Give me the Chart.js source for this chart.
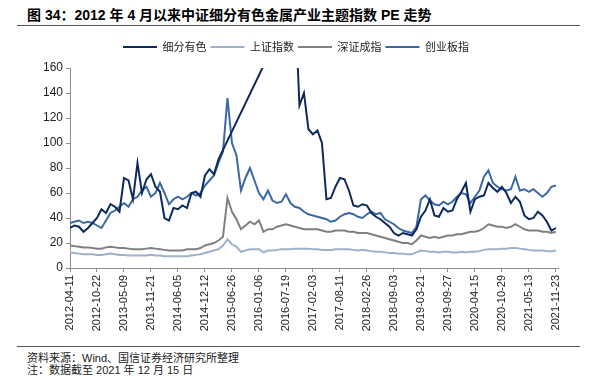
<!DOCTYPE html>
<html>
<head>
<meta charset="utf-8">
<script src="https://cdn.jsdelivr.net/npm/chart.js@4.4.1/dist/chart.umd.min.js"></script>
<style>
  body { margin: 0; background: #fff; width: 592px; height: 385px; overflow: hidden; position: relative; font-family: "Liberation Sans", "Noto Sans CJK SC", sans-serif; }
  #title { position: absolute; left: 27px; top: 4px; font-size: 14px; font-weight: bold; color: #000; white-space: nowrap; }
  .rule { position: absolute; left: 17px; width: 563px; height: 1px; background: #555; }
  #wrap { position: absolute; left: 0; top: 34px; width: 592px; height: 311px; }
  .foot { position: absolute; left: 27px; font-size: 11px; color: #222; white-space: nowrap; }
</style>
</head>
<body>
<div id="title">图 34：2012 年 4 月以来中证细分有色金属产业主题指数 PE 走势</div>
<div class="rule" style="top:25px"></div>
<div id="wrap"><canvas id="peChart"></canvas></div>
<div class="rule" style="top:346px"></div>
<div class="foot" style="top:349px">资料来源：Wind、国信证券经济研究所整理</div>
<div class="foot" style="top:361px">注：数据截至 2021 年 12 月 15 日</div>
<script>
// one tick label every 6 points
const tickLabels = ['2012-04-11', '2012-10-22', '2013-05-09', '2013-11-21', '2014-06-05', '2014-12-12',
  '2015-06-26', '2016-01-06', '2016-07-19', '2017-02-03', '2017-08-11', '2018-02-26', '2018-09-03',
  '2019-03-21', '2019-09-27', '2020-04-15', '2020-10-29', '2021-05-13', '2021-11-23'];
const seriesNames = ['细分有色', '上证指数', '深证成指', '创业板指'];

const xifen = [
  32, 34, 33, 29, 32, 36,
  40, 47, 44, 51, 49, 45,
  72, 70, 55, 84, 60, 71,
  75, 65, 61, 40, 38, 48,
  47, 50, 48, 60, 61, 57,
  74, 79, 75, 87, null, null,
  null, null, null, null, null, null,
  null, null, null, null, null, null,
  null, null, 214, 130, 140, 111,
  107, 110, 100, 55, 56, 65,
  72, 71, 62, 50, 49, 51,
  50, 44, 41, 39, 36, 33,
  28, 26, 28, 27, 26, 31,
  41, 46, 55, 42, 41, 48,
  45, 46, 55, 61, 68, 45,
  55, 57, 58, 68, 64, 61,
  65, 60, 52, 57, 53, 42,
  39, 40, 45, 42, 37, 30,
  32];
const shangzheng = [
  12.5, 12, 11.5, 11, 11, 11,
  10.5, 10.5, 11, 11.5, 11, 10.5,
  10.5, 10, 10, 10, 10, 10,
  10.5, 10, 10, 9.5, 9.5, 9.5,
  9.5, 9.5, 9.5, 10, 10.5, 11,
  12, 13, 14, 15, 18, 23,
  19, 17, 13, 14, 15, 15,
  15, 12.5, 14, 14, 14.5, 15,
  15, 15, 15.5, 15.5, 15.5, 15.5,
  15, 15, 14.5, 14.5, 14.5, 15,
  15, 15, 15, 14.5, 14, 14.5,
  14, 13.5, 13, 13, 12.5, 12,
  12, 11.5, 11.5, 11, 11, 12.5,
  14, 13.5, 13, 13, 12.5, 13,
  13, 12.5, 12.5, 13, 12.5, 13,
  13, 13.5, 14.5, 15, 15, 15,
  15.5, 15.5, 16, 16, 15.5, 15,
  14.5, 14, 14, 14, 13.5, 13.5,
  14];
const shenzheng = [
  18, 17.5, 17, 16.5, 16.5, 16,
  15.5, 15.5, 16.5, 17, 16.5, 16,
  16, 15.5, 15, 15, 15, 15.5,
  16, 15.5, 15, 14.5, 14, 14,
  14, 14, 15, 15, 15, 16,
  18, 19, 20, 22, 25, 56,
  45, 39, 31, 34, 37, 35,
  38, 29, 31, 31, 33, 34,
  35, 34, 33, 32, 31, 31,
  31, 31, 30, 29, 29, 30,
  30, 30, 29, 29, 28, 28,
  28, 27, 26, 25, 24, 23,
  22, 21, 20, 20, 19, 22,
  26, 25, 24, 25, 24, 25,
  26, 26, 27, 27, 28, 29,
  29, 30, 32, 35, 34, 33,
  33, 32, 33, 35, 33, 31,
  30, 30, 30, 29, 29, 28,
  29];
const chuangye = [
  36, 37, 38, 36, 37, 36,
  34, 32, 38, 44, 46, 49,
  52, 49, 55, 57, 62, 65,
  57, 60, 68, 60, 51, 55,
  57, 55, 57, 60, 58, 60,
  66, 70, 74, 84, 93, 136,
  100, 90, 62, 72, 80, 70,
  60, 55, 62, 54, 52, 53,
  59, 52, 49, 48, 45, 43,
  42, 41, 40, 39, 37, 38,
  41, 43, 44, 43, 41, 40,
  43, 45, 43, 44, 39, 37,
  35, 32, 30, 29, 28, 33,
  55, 58, 54, 51, 50, 53,
  51, 53, 57, 60, 59, 52,
  57, 62, 73, 78, 68, 65,
  63, 62, 63, 73, 62, 63,
  61, 63, 60, 57, 60, 65,
  66];

const step = 6;
const toPoints = (arr) => arr.map((v, i) => ({ x: i, y: v }));

// extra room between legend and plot
const legendGap = {
  id: 'legendGap',
  afterInit(chart) {
    const legend = chart.legend;
    const fit = legend.fit;
    legend.fit = function () {
      fit.call(this);
      this.height += 5.5;
    };
  }
};

const axisColor = '#8c8c8c';

new Chart(document.getElementById('peChart'), {
  type: 'line',
  data: {
    datasets: [
      { label: seriesNames[0], data: toPoints(xifen), borderColor: '#0c2a5c', backgroundColor: '#0c2a5c', spanGaps: true },
      { label: seriesNames[1], data: toPoints(shangzheng), borderColor: '#9db2c9', backgroundColor: '#9db2c9' },
      { label: seriesNames[2], data: toPoints(shenzheng), borderColor: '#808080', backgroundColor: '#808080' },
      { label: seriesNames[3], data: toPoints(chuangye), borderColor: '#3a68a4', backgroundColor: '#3a68a4' },
    ],
  },
  options: {
    responsive: true,
    maintainAspectRatio: false,
    animation: false,
    layout: { padding: { left: 0, right: 0, top: 3.5, bottom: 0 } },
    elements: {
      line: { borderWidth: 2, tension: 0 },
      point: { radius: 0 },
    },
    plugins: {
      legend: {
        position: 'top',
        labels: {
          boxWidth: 34,
          boxHeight: 2,
          padding: 4,
          color: '#222',
          font: { family: '"Noto Sans CJK SC"', size: 11 },
          generateLabels(chart) {
            return chart.data.datasets.map((ds, i) => ({
              text: ds.label,
              fillStyle: ds.borderColor,
              strokeStyle: ds.borderColor,
              lineWidth: 0,
              datasetIndex: i,
              fontColor: '#222',
            }));
          },
        },
      },
      tooltip: { enabled: false },
    },
    scales: {
      x: {
        type: 'linear',
        min: 0,
        max: 108.6,
        afterFit(scale) { scale.height = 77; },
        afterBuildTicks(scale) {
          scale.ticks = tickLabels.map((_, k) => ({ value: k * step }));
        },
        ticks: {
          autoSkip: false,
          maxRotation: 90,
          minRotation: 90,
          padding: 3,
          color: '#222',
          font: { family: '"Liberation Sans"', size: 11 },
          callback: (value) => tickLabels[Math.round(value / step)],
        },
        grid: { drawOnChartArea: false, drawTicks: true, tickLength: 4, color: axisColor },
        border: { color: axisColor },
      },
      y: {
        min: 0,
        max: 160,
        afterFit(scale) { scale.width = 70; },
        ticks: {
          stepSize: 20,
          padding: 3,
          color: '#222',
          font: { family: '"Liberation Sans"', size: 12 },
        },
        grid: { drawOnChartArea: false, drawTicks: true, tickLength: 4, color: axisColor },
        border: { color: axisColor },
      },
      // empty right axis only reserves the margin right of the plot
      yPad: {
        position: 'right',
        afterFit(scale) { scale.width = 33.4; },
        ticks: { display: false },
        grid: { display: false },
        border: { display: false },
      },
    },
  },
  plugins: [legendGap],
});
</script>
</body>
</html>
